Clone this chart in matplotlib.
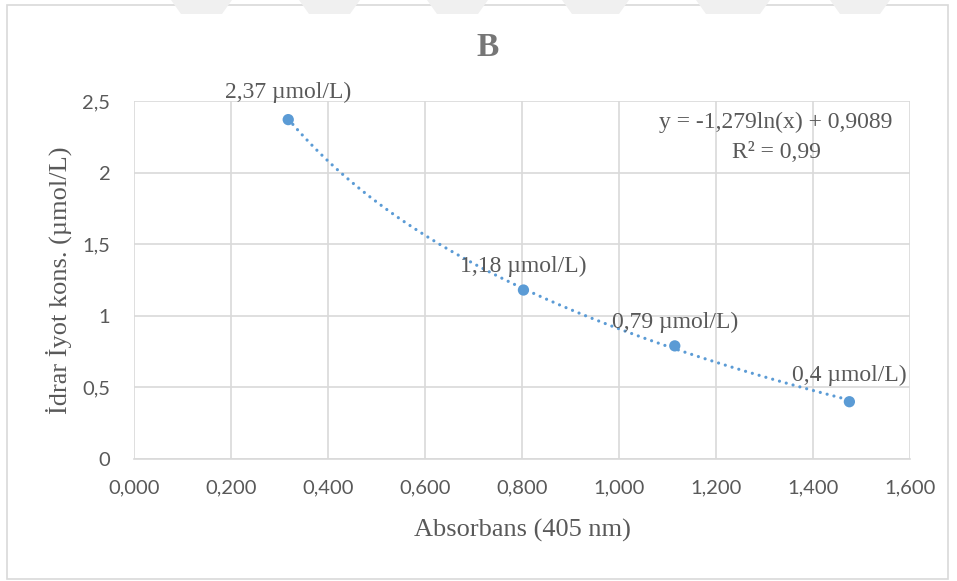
import numpy as np
import matplotlib
matplotlib.use("Agg")
import matplotlib.pyplot as plt
from matplotlib.patches import Rectangle, Polygon

# Data
absorbans = [0.318, 0.803, 1.115, 1.475]
konsantrasyon = [2.37, 1.18, 0.79, 0.40]
point_labels = ["2,37 µmol/L)", "1,18 µmol/L)", "0,79 µmol/L)", "0,4 µmol/L)"]
# Logarithmic trendline coefficients (as displayed)
coef_a = -1.279
coef_b = 0.9089
equation_line1 = "y = -1,279ln(x) + 0,9089"
equation_line2 = "R² = 0,99"
x_ticks = [0.0, 0.2, 0.4, 0.6, 0.8, 1.0, 1.2, 1.4, 1.6]
x_tick_labels = ["0,000", "0,200", "0,400", "0,600", "0,800", "1,000", "1,200", "1,400", "1,600"]
y_ticks = [0, 0.5, 1, 1.5, 2, 2.5]
y_tick_labels = ["0", "0,5", "1", "1,5", "2", "2,5"]

W, H = 957, 581
fig = plt.figure(figsize=(W / 100, H / 100), dpi=100)
fig.patch.set_facecolor("white")

# outer chart border
fig.patches.append(Rectangle((7 / W, 1 - 579 / H), 941 / W, 574 / H, transform=fig.transFigure,
                             fill=False, edgecolor="#d9d9d9", linewidth=1.2))
# faint watermark shapes at the top
for x0, x1 in [(171, 232), (299, 360), (427, 488), (562, 629), (696, 770), (830, 890)]:
    fig.patches.append(Polygon([(x0 / W, 1.0), (x1 / W, 1.0), ((x1 - 10) / W, 1 - 14 / H), ((x0 + 10) / W, 1 - 14 / H)],
                               closed=True, transform=fig.transFigure, facecolor="#f0f0f0", edgecolor="none"))

ax = fig.add_axes([134 / W, 1 - 459 / H, (910 - 134) / W, (459 - 101) / H])
grey_text = "#595959"
serif = "Liberation Serif"

ax.set_xlim(0, 1.6)
ax.set_ylim(0, 2.5)
ax.set_xticks(x_ticks)
ax.set_xticklabels(x_tick_labels)
ax.set_yticks(y_ticks)
ax.set_yticklabels(y_tick_labels)
ax.grid(True, color="#d9d9d9", linewidth=1.2)
ax.set_axisbelow(True)
for s in ["top", "right", "left"]:
    ax.spines[s].set_visible(False)
ax.spines["bottom"].set_color("#d9d9d9")
ax.spines["bottom"].set_linewidth(1.2)
ax.tick_params(length=0, colors=grey_text, labelsize=14.5)
for lbl in ax.get_xticklabels() + ax.get_yticklabels():
    lbl.set_fontfamily("Lato")
ax.tick_params(axis="x", pad=15)
ax.tick_params(axis="y", pad=17)

# trendline
xs = np.linspace(min(absorbans), max(absorbans), 300)
ax.plot(xs, coef_a * np.log(xs) + coef_b, linestyle=(0, (0.01, 2.2)), color="#5b9bd5", linewidth=2.3,
        dash_capstyle="round", zorder=3)
ax.scatter(absorbans, konsantrasyon, s=66, color="#5b9bd5", zorder=4, edgecolors="none")

offsets_px = [22, 18, 18, 21]
for x, y, t, off in zip(absorbans, konsantrasyon, point_labels, offsets_px):
    ax.annotate(t, (x, y), textcoords="offset pixels", xytext=(0, off), ha="center", va="baseline",
                fontsize=17, color=grey_text, family=serif, zorder=5)

fig.text(776 / W, 1 - 122 / H, equation_line1, ha="center", va="center",
         fontsize=17, color=grey_text, family=serif)
fig.text(776 / W, 1 - 152 / H, equation_line2, ha="center", va="center",
         fontsize=17, color=grey_text, family=serif)

fig.text(522 / W, 1 - 530 / H, "Absorbans (405 nm)", ha="center", va="center",
         fontsize=19, color=grey_text, family=serif)
fig.text(59 / W, 1 - 280 / H, "İdrar İyot kons. (µmol/L)", ha="center", va="center", rotation=90,
         fontsize=19, color=grey_text, family=serif)

fig.text(488 / W, 1 - 47 / H, "B", ha="center", va="center", fontsize=24, fontweight="bold",
         color="#767676", family=serif)

fig.savefig("out.png", dpi=100, facecolor="white")
